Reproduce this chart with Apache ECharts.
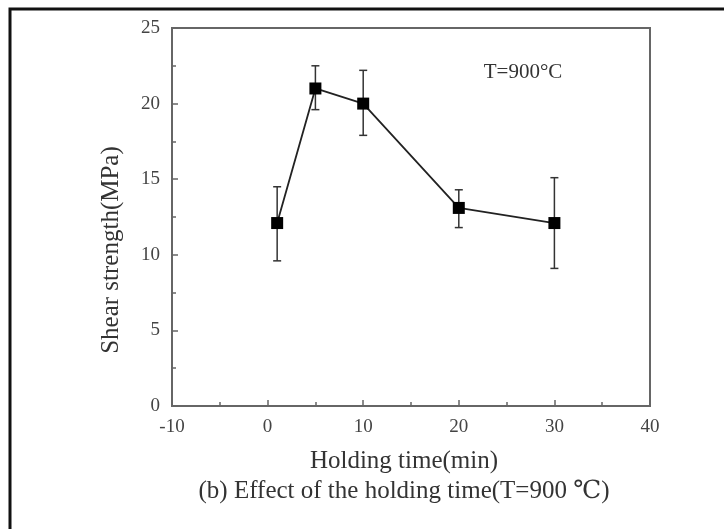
<!DOCTYPE html>
<html>
<head>
<meta charset="utf-8">
<title>Shear strength vs holding time</title>
<script src="https://cdn.jsdelivr.net/npm/echarts@6/dist/echarts.min.js"></script>
<style>
  html, body { margin: 0; padding: 0; background: #fff; }
  #chart { width: 724px; height: 529px; }
</style>
</head>
<body>
<div id="chart"></div>
<script>
// holding time (min) and measured shear strength (MPa)
const holdTime = [1, 5, 10, 20, 30]
const strength = [12.1, 21.0, 20.0, 13.1, 12.1]
const errLow = [9.6, 19.6, 17.9, 11.8, 9.1]
const errHigh = [14.5, 22.5, 22.2, 14.3, 15.1]

const xTicks = [-10, 0, 10, 20, 30, 40]
const yTicks = [0, 5, 10, 15, 20, 25]

const serif = '"Liberation Serif", "DejaVu Serif", serif'
const axisGray = '#666'
const textGray = '#333'

const chart = echarts.init(document.getElementById('chart'))

chart.setOption({
  animation: false,
  backgroundColor: '#fff',
  grid: {
    left: 172,
    top: 28,
    width: 478,
    height: 378,
    show: true,
    borderColor: axisGray,
    borderWidth: 2,
    backgroundColor: 'transparent'
  },
  xAxis: {
    type: 'value',
    min: xTicks[0],
    max: xTicks[xTicks.length - 1],
    interval: 10,
    axisLine: { onZero: false, lineStyle: { color: axisGray, width: 2 } },
    axisTick: { inside: true, length: 6, lineStyle: { color: axisGray, width: 1.5 } },
    minorTick: { show: true, splitNumber: 2, length: 4, lineStyle: { color: axisGray, width: 1.5 } },
    axisLabel: { fontFamily: serif, fontSize: 19, color: '#444', margin: 12 },
    splitLine: { show: false }
  },
  yAxis: {
    type: 'value',
    min: yTicks[0],
    max: yTicks[yTicks.length - 1],
    interval: 5,
    axisLine: { onZero: false, lineStyle: { color: axisGray, width: 2 } },
    axisTick: { inside: true, length: 6, lineStyle: { color: axisGray, width: 1.5 } },
    minorTick: { show: true, splitNumber: 2, length: 4, lineStyle: { color: axisGray, width: 1.5 } },
    axisLabel: { fontFamily: serif, fontSize: 19, color: '#444', margin: 12 },
    splitLine: { show: false }
  },
  graphic: [
    {
      // outer frame of the figure (right/bottom edges run off the picture)
      type: 'rect',
      shape: { x: 10, y: 9, width: 800, height: 600 },
      style: { fill: 'none', stroke: '#111', lineWidth: 3 },
      z: 100
    },
    {
      type: 'text',
      x: 111,
      y: 250,
      rotation: Math.PI / 2,
      style: {
        text: 'Shear strength(MPa)',
        font: '25px ' + serif,
        fill: textGray,
        align: 'center',
        verticalAlign: 'middle'
      },
      z: 100
    },
    {
      type: 'text',
      x: 404,
      y: 461,
      style: {
        text: 'Holding time(min)',
        font: '25px ' + serif,
        fill: textGray,
        align: 'center',
        verticalAlign: 'middle'
      },
      z: 100
    },
    {
      type: 'text',
      x: 404,
      y: 491,
      style: {
        text: '(b) Effect of the holding time(T=900 ℃)',
        font: '25px ' + serif,
        fill: textGray,
        align: 'center',
        verticalAlign: 'middle'
      },
      z: 100
    },
    {
      type: 'text',
      x: 523,
      y: 72,
      style: {
        text: 'T=900°C',
        font: '21px ' + serif,
        fill: textGray,
        align: 'center',
        verticalAlign: 'middle'
      },
      z: 100
    }
  ],
  series: [
    {
      name: 'error',
      type: 'custom',
      data: holdTime.map((t, i) => [t, errLow[i], errHigh[i]]),
      renderItem: (params, api) => {
        const lo = api.coord([api.value(0), api.value(1)])
        const hi = api.coord([api.value(0), api.value(2)])
        const cap = 4
        const style = { stroke: '#333', lineWidth: 1.5 }
        return {
          type: 'group',
          children: [
            { type: 'line', shape: { x1: lo[0], y1: lo[1], x2: hi[0], y2: hi[1] }, style },
            { type: 'line', shape: { x1: lo[0] - cap, y1: lo[1], x2: lo[0] + cap, y2: lo[1] }, style },
            { type: 'line', shape: { x1: hi[0] - cap, y1: hi[1], x2: hi[0] + cap, y2: hi[1] }, style }
          ]
        }
      },
      z: 2
    },
    {
      name: 'Shear strength',
      type: 'line',
      data: holdTime.map((t, i) => [t, strength[i]]),
      symbol: 'rect',
      symbolSize: 12,
      itemStyle: { color: '#000' },
      lineStyle: { color: '#222', width: 1.8 },
      z: 3
    }
  ]
})
</script>
</body>
</html>
